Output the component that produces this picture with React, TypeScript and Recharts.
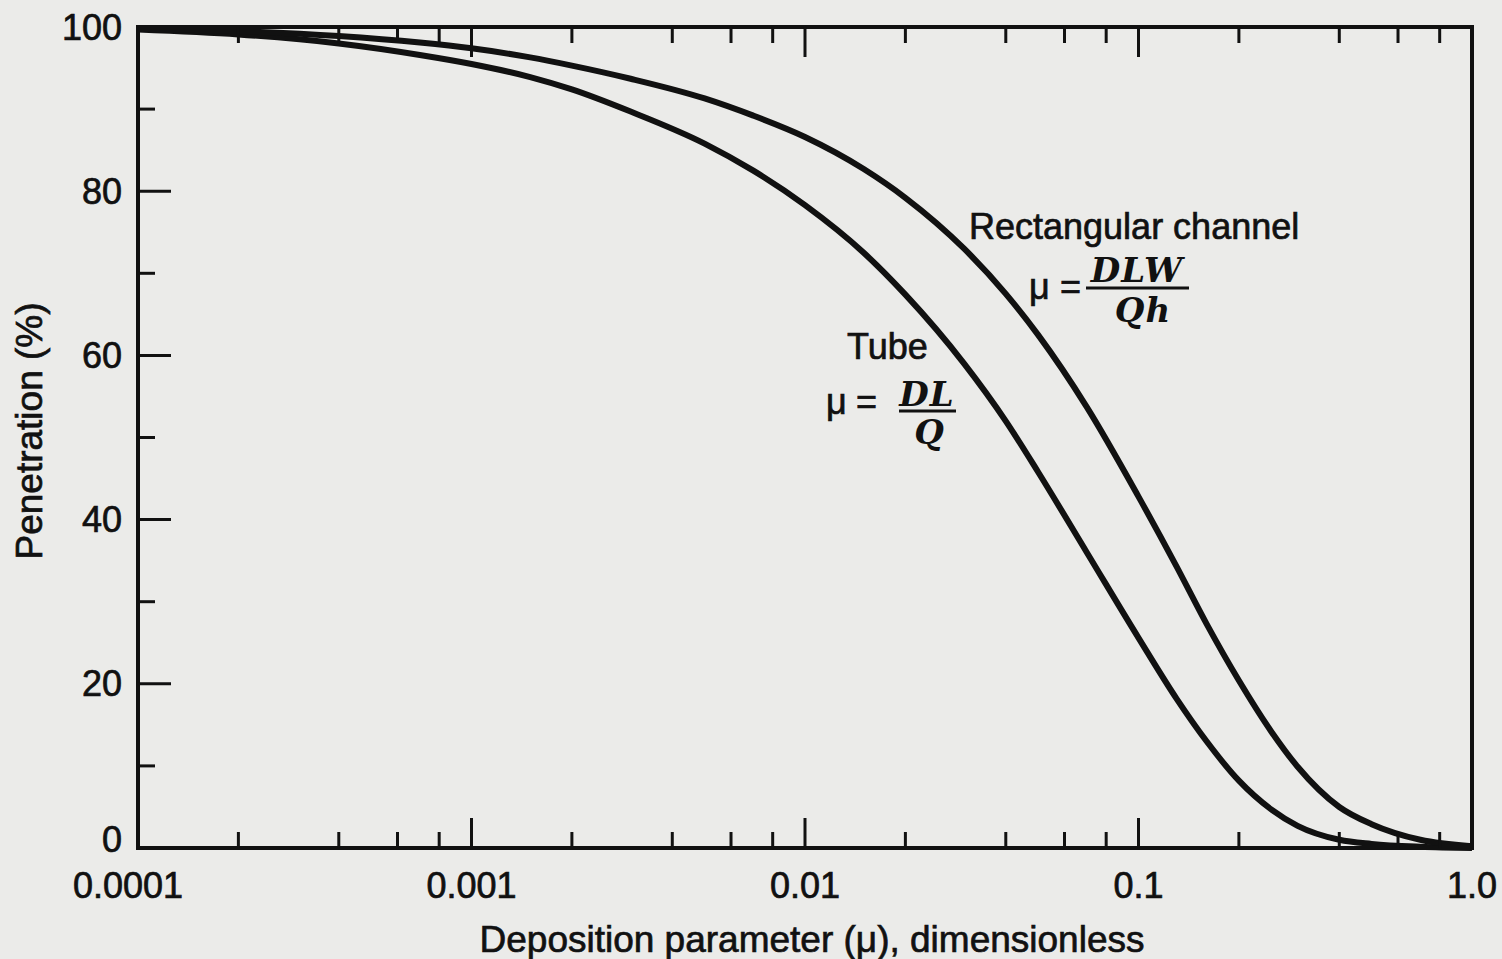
import React from "react";
import { LineChart, Line, XAxis, YAxis, Customized } from "recharts";

// deposition parameter mu (log axis)
const mu = [0.0001, 0.0002, 0.0004, 0.0007, 0.001, 0.0015, 0.002, 0.003, 0.005, 0.007, 0.01, 0.015, 0.02, 0.03, 0.04, 0.05, 0.07, 0.1, 0.13, 0.16, 0.2, 0.25, 0.3, 0.4, 0.5, 0.7, 1.0];
// penetration (%)
const tubeP = [99.7, 99.1, 98.0, 96.6, 95.5, 93.9, 92.4, 89.7, 85.8, 82.5, 78.3, 72.5, 67.4, 59.0, 52.0, 45.8, 36.0, 25.6, 18.2, 13.0, 8.2, 4.7, 2.7, 1.0, 0.5, 0.15, 0];
const rectP = [99.8, 99.5, 98.9, 98.1, 97.4, 96.3, 95.3, 93.7, 91.3, 89.2, 86.6, 82.7, 79.2, 73.0, 67.5, 62.5, 53.7, 42.8, 34.3, 27.3, 20.4, 14.2, 9.9, 5.0, 2.9, 1.0, 0.2];

const xTicks = [
  0.0001, 0.0002, 0.0004, 0.0006, 0.0008,
  0.001, 0.002, 0.004, 0.006, 0.008,
  0.01, 0.02, 0.04, 0.06, 0.08,
  0.1, 0.2, 0.4, 0.6, 0.8, 1,
];
const xLabels: Record<string, string> = { "0.0001": "0.0001", "0.001": "0.001", "0.01": "0.01", "0.1": "0.1", "1": "1.0" };
const yTicks = [0, 10, 20, 30, 40, 50, 60, 70, 80, 90, 100];
const yLabels = [0, 20, 40, 60, 80, 100];

const tubeData = mu.map((m, i) => ({ mu: m, p: tubeP[i] }));
const rectData = mu.map((m, i) => ({ mu: m, p: rectP[i] }));

const INK = "#111";
const SANS = "'Liberation Sans', Arial, sans-serif";
const SERIF = "'DejaVu Serif', 'Liberation Serif', serif";
const FS = 36;
// slightly heavier strokes for the scanned-print look
const heavy = { stroke: INK, strokeWidth: 0.7 };

const isEnd = (v: number) => v === 0.0001 || v === 1;

const BottomTick = (props: any) => {
  const { x, y, payload } = props;
  const v = payload.value;
  const label = xLabels[String(v)];
  const len = label ? 30 : 16;
  return (
    <g>
      {!isEnd(v) && <line x1={x} x2={x} y1={y} y2={y - len} stroke={INK} strokeWidth={3} />}
      {label && (
        <text x={x - (v === 0.0001 ? 10 : 0)} y={y + 37} textAnchor="middle" dominantBaseline="central" fontFamily={SANS} fontSize={FS} fill={INK} {...heavy}>
          {label}
        </text>
      )}
    </g>
  );
};

const TopTick = (props: any) => {
  const { x, y, payload } = props;
  const v = payload.value;
  const len = xLabels[String(v)] ? 30 : 16;
  if (isEnd(v)) return <g />;
  return <line x1={x} x2={x} y1={y} y2={y + len} stroke={INK} strokeWidth={3} />;
};

const LeftTick = (props: any) => {
  const { x, y, payload } = props;
  const v = payload.value;
  const major = yLabels.includes(v);
  const len = major ? 33 : 17;
  return (
    <g>
      {v !== 0 && v !== 100 && <line x1={x} x2={x + len} y1={y} y2={y} stroke={INK} strokeWidth={3} />}
      {major && (
        <text x={x - 16} y={y + (v === 0 ? -9 : 0)} textAnchor="end" dominantBaseline="central" fontFamily={SANS} fontSize={FS} fill={INK} {...heavy}>
          {v}
        </text>
      )}
    </g>
  );
};

const RightTick = (props: any) => {
  const { x, y, payload } = props;
  const v = payload.value;
  if (v === 0 || v === 100) return <g />;
  const len = yLabels.includes(v) ? 35 : 17;
  return <line x1={x} x2={x - len} y1={y} y2={y} stroke={INK} strokeWidth={3} />;
};

const Annotations = () => (
  <g fill={INK}>
    <text x={812} y={939} textAnchor="middle" dominantBaseline="central" fontFamily={SANS} fontSize={37} {...heavy}>
      Deposition parameter (μ), dimensionless
    </text>
    <text transform="translate(29,431) rotate(-90)" textAnchor="middle" dominantBaseline="central" fontFamily={SANS} fontSize={37} {...heavy}>
      Penetration (%)
    </text>

    <text x={969} y={239} fontFamily={SANS} fontSize={FS} {...heavy}>Rectangular channel</text>
    <text x={1029} y={299} fontFamily={SANS} fontSize={FS} {...heavy}>μ</text>
    <text x={1060} y={299} fontFamily={SANS} fontSize={FS} {...heavy}>=</text>
    <text x={1137} y={282} textAnchor="middle" fontFamily={SERIF} fontSize={34} fontWeight="bold" fontStyle="italic" letterSpacing={1}>DLW</text>
    <line x1={1086} x2={1189} y1={288} y2={288} stroke={INK} strokeWidth={3} />
    <text x={1143} y={322} textAnchor="middle" fontFamily={SERIF} fontSize={34} fontWeight="bold" fontStyle="italic" letterSpacing={1}>Qh</text>

    <text x={847} y={359} fontFamily={SANS} fontSize={FS} {...heavy}>Tube</text>
    <text x={826} y={414} fontFamily={SANS} fontSize={FS} {...heavy}>μ</text>
    <text x={856} y={414} fontFamily={SANS} fontSize={FS} {...heavy}>=</text>
    <text x={927} y={406} textAnchor="middle" fontFamily={SERIF} fontSize={34} fontWeight="bold" fontStyle="italic" letterSpacing={1}>DL</text>
    <line x1={899} x2={956} y1={411} y2={411} stroke={INK} strokeWidth={3} />
    <text x={929} y={444} textAnchor="middle" fontFamily={SERIF} fontSize={34} fontWeight="bold" fontStyle="italic">Q</text>
  </g>
);

const axisLine = { stroke: INK, strokeWidth: 4, strokeLinecap: "square" as const };

export default function App() {
  return (
    <div style={{ position: "absolute", left: 0, top: 0, width: 1502, height: 959, background: "#ebebe9" }}>
      <LineChart width={1502} height={959} margin={{ top: 17, right: 20, bottom: 51, left: 78 }}>
        <XAxis
          dataKey="mu"
          type="number"
          scale="log"
          domain={[0.0001, 1]}
          allowDataOverflow
          ticks={xTicks}
          interval={0}
          height={60}
          tickSize={0}
          tickMargin={0}
          tickLine={false}
          axisLine={axisLine}
          tick={<BottomTick />}
        />
        <XAxis
          xAxisId="top"
          orientation="top"
          dataKey="mu"
          type="number"
          scale="log"
          domain={[0.0001, 1]}
          allowDataOverflow
          ticks={xTicks}
          interval={0}
          height={10}
          tickSize={0}
          tickMargin={0}
          tickLine={false}
          axisLine={axisLine}
          tick={<TopTick />}
        />
        <YAxis
          type="number"
          domain={[0, 100]}
          ticks={yTicks}
          interval={0}
          width={60}
          tickSize={0}
          tickMargin={0}
          tickLine={false}
          axisLine={axisLine}
          tick={<LeftTick />}
        />
        <YAxis
          yAxisId="right"
          orientation="right"
          type="number"
          domain={[0, 100]}
          ticks={yTicks}
          interval={0}
          width={10}
          tickSize={0}
          tickMargin={0}
          tickLine={false}
          axisLine={axisLine}
          tick={<RightTick />}
        />
        <Line data={tubeData} dataKey="p" name="Tube" type="monotone" stroke={INK} strokeWidth={6} dot={false} isAnimationActive={false} />
        <Line data={rectData} dataKey="p" name="Rectangular channel" type="monotone" stroke={INK} strokeWidth={6} dot={false} isAnimationActive={false} />
        <Customized component={<Annotations />} />
      </LineChart>
    </div>
  );
}
